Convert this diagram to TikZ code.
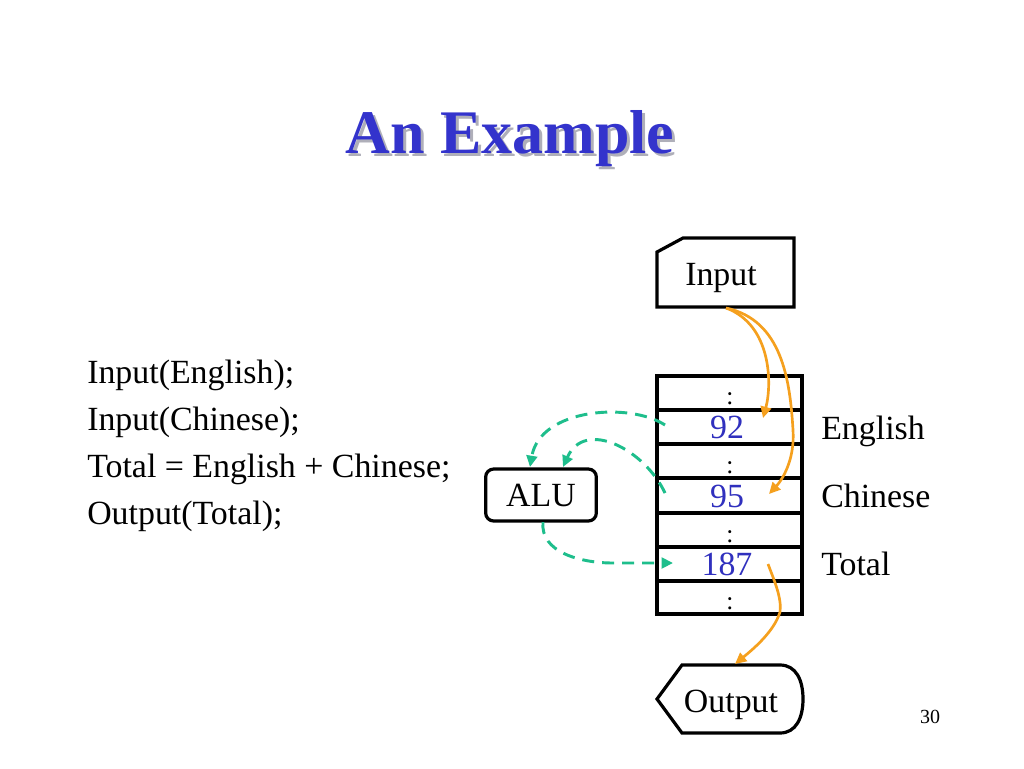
\documentclass[tikz,border=0pt]{standalone}
\usepackage{fontspec}
\setmainfont{Liberation Serif}
\usetikzlibrary{arrows.meta}
\definecolor{titleblue}{RGB}{51,51,204}
\definecolor{valblue}{RGB}{48,48,190}
\definecolor{arrorange}{RGB}{245,160,30}
\definecolor{dashgreen}{RGB}{30,190,140}
\definecolor{shadowgray}{RGB}{175,175,185}
\begin{document}
\begin{tikzpicture}[x=0.75pt,y=-0.75pt,
  txt/.style={font=\fontsize{25.4}{30}\selectfont, inner sep=0pt},
  valtxt/.style={txt, text=valblue, anchor=base},
  dots/.style={font=\fontsize{19}{22}\selectfont, inner sep=0pt, anchor=base},
  titletxt/.style={font=\fontsize{46.5}{56}\selectfont\bfseries, inner sep=0pt, anchor=base},
  box/.style={draw, line width=2.4pt, line join=miter},
  orangearrow/.style={draw=arrorange, line width=2pt, -{Triangle[length=8.5pt,width=8pt]}},
  greenarrow/.style={draw=dashgreen, line width=2.2pt, dash pattern=on 9pt off 6pt, -{Triangle[length=8.5pt,width=8pt]}}
]
\useasboundingbox (0,0) rectangle (1024,768);
\fill[white] (0,0) rectangle (1024,768);

% title with shadow (one node)
\node[titletxt] (title) at (510,153) {\rlap{\hspace{2.25pt}\raisebox{-2.25pt}{\textcolor{shadowgray}{An Example}}}\textcolor{titleblue}{An Example}};

% program text
\node[txt, anchor=base west] (l1) at (87,383) {Input(English);};
\node[txt, anchor=base west] (l2) at (87,430) {Input(Chinese);};
\node[txt, anchor=base west] (l3) at (87,477) {Total = English + Chinese;};
\node[txt, anchor=base west] (l4) at (87,524) {Output(Total);};

% input shape
\draw[box] (657,252) -- (683,238) -- (794,238) -- (794,307) -- (657,307) -- cycle;
\node[txt, anchor=base] (input) at (721,285) {Input};
\coordinate (inbot) at (726,308);

% memory table
\draw[box] (657,376) rectangle (802,614);
\foreach \yy in {410,444,478,513,547,581} \draw[box] (657,\yy) -- (802,\yy);
\node[dots] (d1) at (730,404) {:};
\node[dots] (d2) at (730,473) {:};
\node[dots] (d3) at (730,542) {:};
\node[dots] (d4) at (730,609) {:};
\node[valtxt] (v92) at (727,438) {92};
\node[valtxt] (v95) at (727,507) {95};
\node[valtxt] (v187) at (727,575) {187};
\node[txt, anchor=base west] (english) at (821,439) {English};
\node[txt, anchor=base west] (chinese) at (821,507) {Chinese};
\node[txt, anchor=base west] (total) at (821,575) {Total};

% ALU
\node[box, rounded corners=6pt, minimum width=83pt, minimum height=39pt, txt] (alu) at (541,495) {ALU};

% output shape
\draw[box] (657,699) -- (682,665) -- (780,665) .. controls (796,665) and (803,680) .. (803,699) .. controls (803,718) and (796,733) .. (780,733) -- (682,733) -- cycle;
\node[txt, anchor=base] (output) at (731,712) {Output};
\node[font=\fontsize{15}{18}\selectfont, inner sep=0pt, anchor=base] (pnum) at (930,723) {30};

% connector end points
\coordinate (a92) at (763,418);
\coordinate (a95) at (769,494);
\coordinate (s187) at (768,564);
\coordinate (outtop) at (735,664);
\coordinate (g92) at (665,425);
\coordinate (g95) at (665,493);
\coordinate (alun1) at (530,467);
\coordinate (alun2) at (563,467);
\coordinate (alus) at (543,522);
\coordinate (t187) at (673,563);

% orange arrows
\draw[orangearrow] (inbot) .. controls (772,325) and (772,385) .. (a92);
\draw[orangearrow] (inbot) .. controls (782,320) and (790,380) .. (793,430) .. controls (795,460) and (782,480) .. (a95);
\draw[orangearrow] (s187) .. controls (774,580) and (782,598) .. (780,612) .. controls (774,632) and (752,650) .. (outtop);

% green dashed arrows
\draw[greenarrow] (g92) .. controls (630,402) and (540,408) .. (alun1);
\draw[greenarrow] (g95) .. controls (645,450) and (585,418) .. (alun2);
\draw[greenarrow] (alus) .. controls (540,552) and (580,563) .. (613,563) -- (t187);
\end{tikzpicture}
\end{document}
